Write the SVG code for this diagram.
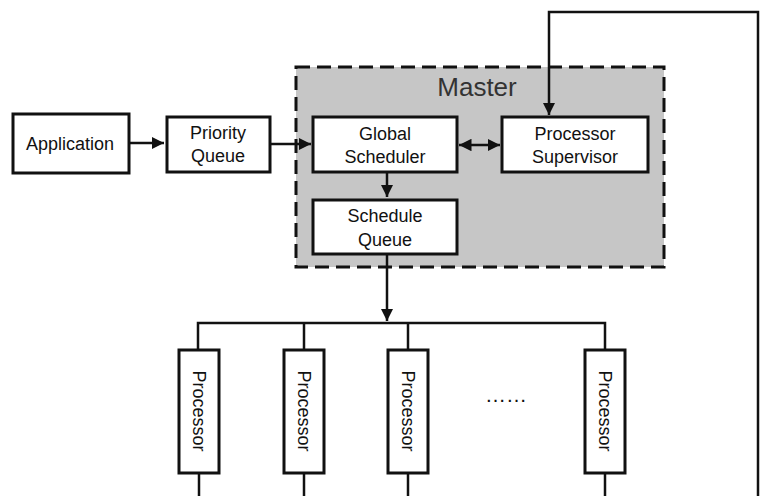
<svg xmlns="http://www.w3.org/2000/svg" width="760" height="496" viewBox="0 0 760 496">
<style>
.box{fill:#fff;stroke:#111;stroke-width:3}
.t{font-family:"Liberation Sans",Arial,sans-serif;font-size:18px;fill:#111;text-anchor:middle}
.c{fill:none;stroke:#111;stroke-width:2.5}
</style>
<defs>
<marker id="ah" viewBox="0 0 10 10" refX="10" refY="5" markerWidth="5" markerHeight="5" orient="auto-start-reverse" markerUnits="strokeWidth">
<path d="M0,0 L10,5 L0,10 z" fill="#111"/>
</marker>
</defs>
<rect width="760" height="496" fill="#fff"/>
<g id="master">
<rect x="296" y="67" width="368" height="200" fill="#c6c6c6" stroke="#111" stroke-width="3" stroke-dasharray="14 7"/>
<text x="477" y="96" class="t" style="font-size:26px;fill:#333">Master</text>
</g>
<g id="connectors">
<line class="c" x1="129" y1="143" x2="164" y2="143" marker-end="url(#ah)"/>
<line class="c" x1="270" y1="144" x2="311" y2="144" marker-end="url(#ah)"/>
<line class="c" x1="459" y1="145" x2="500" y2="145" marker-start="url(#ah)" marker-end="url(#ah)"/>
<line class="c" x1="387" y1="172" x2="387" y2="197" marker-end="url(#ah)"/>
<polyline class="c" points="758,496 758,12 549,12 549,115" marker-end="url(#ah)"/>
<line class="c" x1="387" y1="254" x2="387" y2="321" marker-end="url(#ah)"/>
<polyline class="c" points="198,350 198,323 605,323 605,350"/>
<line class="c" x1="304" y1="323" x2="304" y2="350"/>
<line class="c" x1="408" y1="323" x2="408" y2="350"/>
<line class="c" x1="199" y1="473" x2="199" y2="496"/>
<line class="c" x1="304" y1="473" x2="304" y2="496"/>
<line class="c" x1="408" y1="473" x2="408" y2="496"/>
<line class="c" x1="605" y1="473" x2="605" y2="496"/>
</g>
<g id="application">
<rect class="box" x="13" y="114" width="116" height="59"/>
<text class="t" x="70" y="150">Application</text>
</g>
<g id="priority-queue">
<rect class="box" x="167" y="117" width="103" height="55"/>
<text class="t" x="218" y="139">Priority</text>
<text class="t" x="218" y="162">Queue</text>
</g>
<g id="global-scheduler">
<rect class="box" x="313" y="117" width="144" height="55"/>
<text class="t" x="385" y="140">Global</text>
<text class="t" x="385" y="163">Scheduler</text>
</g>
<g id="processor-supervisor">
<rect class="box" x="502" y="117" width="146" height="55"/>
<text class="t" x="575" y="140">Processor</text>
<text class="t" x="575" y="163">Supervisor</text>
</g>
<g id="schedule-queue">
<rect class="box" x="313" y="200" width="144" height="54"/>
<text class="t" x="385" y="222">Schedule</text>
<text class="t" x="385" y="246">Queue</text>
</g>
<g id="processor-1">
<rect class="box" x="179" y="350" width="40" height="123"/>
<text class="t" transform="translate(199,411) rotate(90)" y="6">Processor</text>
</g>
<g id="processor-2">
<rect class="box" x="284" y="350" width="40" height="123"/>
<text class="t" transform="translate(304,411) rotate(90)" y="6">Processor</text>
</g>
<g id="processor-3">
<rect class="box" x="388" y="350" width="40" height="123"/>
<text class="t" transform="translate(408,411) rotate(90)" y="6">Processor</text>
</g>
<g id="processor-n">
<rect class="box" x="585" y="350" width="40" height="123"/>
<text class="t" transform="translate(605,411) rotate(90)" y="6">Processor</text>
</g>
<g id="ellipsis">
<text class="t" x="506" y="402" style="font-size:21px">……</text>
</g>
</svg>
